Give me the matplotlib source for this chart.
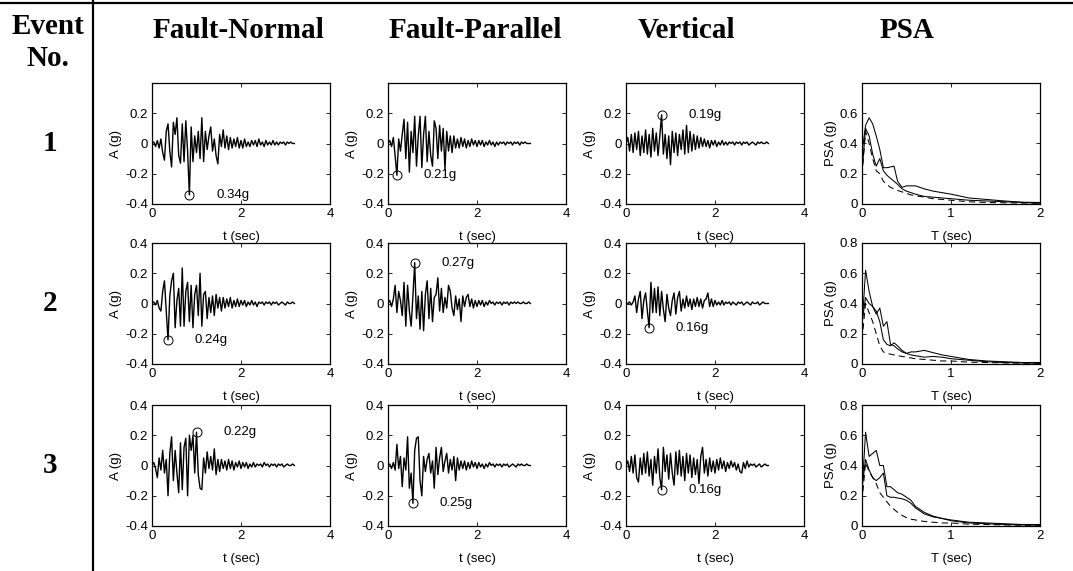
import matplotlib
matplotlib.use('Agg')
import matplotlib.pyplot as plt
import numpy as np

# %% DATA
# Acceleration time histories, sampled every 0.04 s from 0 to 3.2 s (values in g)
fn_1 = [0.00, 0.01, -0.02, 0.02, -0.03, 0.03, -0.06, -0.11, 0.08, 0.13,
        -0.05, -0.155, 0.14, 0.06, 0.17, -0.08, -0.13, 0.13, -0.12, 0.15,
        -0.05, -0.34, 0.11, -0.12, 0.05, -0.06, 0.08, -0.10, 0.17, -0.12,
        0.08, -0.04, 0.05, 0.11, -0.05, 0.03, -0.08, -0.135, 0.06, -0.02,
        0.09, -0.03, 0.05, -0.04, 0.04, -0.03, 0.03, -0.02, 0.04, -0.03,
        0.02, -0.03, 0.03, -0.02, 0.01, -0.02, 0.02, -0.01, 0.02, -0.02,
        0.03, -0.01, 0.01, -0.02, 0.02, -0.01, 0.01, -0.01, 0.02, -0.01,
        0.01, -0.01, 0.01, 0.00, 0.01, -0.01, 0.01, 0.00, 0.01, 0.00, 0.00]
fp_1 = [0.00, 0.02, -0.02, 0.04, -0.08, -0.21, 0.03, -0.05, 0.06, 0.16,
        -0.10, 0.14, -0.19, 0.08, -0.06, 0.18, -0.15, 0.05, 0.18, -0.16,
        0.06, 0.18, -0.12, 0.08, -0.08, -0.15, 0.15, 0.10, -0.10, 0.12,
        -0.05, 0.10, -0.17, 0.08, -0.05, 0.05, -0.06, 0.05, -0.03, 0.03,
        -0.03, 0.04, -0.02, 0.03, -0.03, 0.02, -0.02, 0.03, -0.01, 0.02,
        -0.02, 0.02, -0.01, 0.02, -0.02, 0.01, -0.01, 0.02, -0.01, 0.01,
        -0.02, 0.01, -0.01, 0.01, 0.00, 0.01, -0.01, 0.01, 0.00, 0.01,
        -0.01, 0.01, 0.00, 0.01, -0.01, 0.01, 0.00, 0.01, 0.00, 0.00, 0.00]
v_1 = [0.00, 0.04, -0.05, 0.06, -0.06, 0.07, -0.04, 0.08, -0.08, 0.05,
       -0.06, 0.09, -0.07, 0.06, -0.09, 0.10, -0.05, 0.07, -0.08, 0.05,
       0.19, -0.07, 0.06, -0.10, 0.05, -0.14, 0.08, -0.06, 0.07, -0.08,
       0.06, -0.04, 0.09, -0.07, 0.12, -0.06, 0.08, -0.05, 0.06, -0.04,
       0.05, -0.03, 0.04, -0.02, 0.03, -0.02, 0.02, -0.03, 0.02, -0.01,
       0.02, -0.02, 0.01, -0.01, 0.02, -0.01, 0.01, -0.01, 0.01, 0.00,
       0.01, -0.01, 0.01, 0.00, 0.01, -0.01, 0.01, 0.00, 0.01, -0.01,
       0.00, 0.01, 0.00, -0.01, 0.01, 0.00, 0.01, 0.00, 0.00, 0.01, 0.00]
fn_2 = [0.00, 0.01, -0.01, 0.02, -0.03, -0.05, 0.08, 0.15, -0.05, -0.24,
        0.05, 0.15, 0.20, -0.16, 0.02, 0.10, -0.15, 0.235, -0.15, 0.08,
        0.14, -0.12, 0.12, -0.16, 0.06, 0.12, -0.08, 0.20, -0.15, 0.06,
        0.08, -0.10, 0.04, -0.06, 0.05, -0.08, 0.06, -0.03, 0.04, -0.05,
        0.04, -0.03, 0.03, -0.02, 0.04, -0.03, 0.02, -0.02, 0.03, -0.02,
        0.02, -0.01, 0.02, -0.02, 0.01, -0.01, 0.02, -0.01, 0.01, -0.02,
        0.01, 0.00, 0.01, -0.01, 0.01, 0.00, 0.01, -0.01, 0.01, 0.00,
        0.01, -0.01, 0.00, 0.01, 0.00, -0.01, 0.01, 0.00, 0.00, 0.01, 0.00]
fp_2 = [0.00, 0.02, -0.02, 0.03, 0.12, -0.06, 0.08, 0.02, -0.08, 0.14,
        -0.15, 0.12, -0.05, -0.15, 0.05, 0.27, -0.10, 0.05, -0.17, 0.08,
        -0.18, 0.06, 0.15, -0.10, 0.10, -0.12, 0.04, 0.06, 0.17, -0.05,
        0.10, -0.06, 0.04, -0.03, 0.12, 0.08, -0.03, -0.08, 0.05, -0.04,
        0.03, -0.12, 0.05, -0.02, 0.04, 0.06, -0.02, 0.03, -0.03, 0.02,
        -0.02, 0.02, -0.01, 0.02, -0.02, 0.01, -0.01, 0.02, 0.00, 0.01,
        -0.01, 0.01, 0.00, 0.01, -0.01, 0.01, 0.00, 0.01, -0.01, 0.01,
        0.00, 0.01, 0.00, 0.01, 0.00, 0.00, 0.01, 0.00, 0.00, 0.01, 0.00]
v_2 = [0.00, 0.00, 0.01, -0.01, 0.01, 0.05, -0.06, 0.03, 0.08, -0.10,
       0.02, 0.07, -0.05, -0.16, 0.14, -0.06, 0.10, -0.06, 0.11, -0.08,
       0.08, -0.04, -0.12, 0.06, -0.03, -0.08, 0.02, 0.07, -0.07, 0.04,
       0.08, -0.05, 0.03, -0.03, 0.05, -0.02, 0.03, -0.04, 0.03, -0.02,
       0.04, -0.02, 0.03, -0.03, 0.02, 0.03, 0.07, -0.02, 0.03, -0.02,
       0.02, -0.01, 0.01, -0.01, 0.02, -0.01, 0.01, 0.00, 0.01, -0.01,
       0.01, 0.00, -0.01, 0.01, 0.00, 0.01, -0.01, 0.00, 0.01, 0.00,
       -0.01, 0.01, 0.00, 0.00, 0.01, -0.01, 0.00, 0.01, 0.00, 0.00, 0.00]
fn_3 = [0.00, 0.02, -0.02, -0.08, 0.05, -0.03, 0.10, -0.05, 0.04, -0.20,
        0.08, 0.19, -0.10, 0.10, -0.05, -0.18, 0.15, -0.16, 0.12, 0.18,
        -0.20, 0.20, 0.10, 0.20, -0.05, 0.22, -0.06, -0.15, -0.16, 0.05,
        -0.05, 0.09, -0.02, 0.06, -0.03, 0.11, -0.06, 0.04, -0.04, 0.04,
        -0.02, 0.03, -0.03, 0.04, -0.02, 0.03, -0.03, 0.02, -0.01, 0.03,
        -0.02, 0.02, -0.01, 0.02, -0.02, 0.01, -0.01, 0.02, -0.01, 0.01,
        0.00, 0.01, -0.01, 0.02, 0.00, 0.01, -0.01, 0.01, 0.00, 0.01,
        -0.01, 0.01, 0.00, 0.01, -0.01, 0.00, 0.01, 0.00, 0.00, 0.01, 0.00]
fp_3 = [0.00, 0.01, -0.02, 0.02, -0.03, 0.14, -0.02, 0.06, -0.14, 0.05,
        -0.03, 0.19, -0.15, -0.05, -0.25, 0.10, 0.18, 0.19, -0.10, -0.20,
        0.06, -0.04, 0.04, 0.08, -0.05, 0.03, -0.15, 0.12, -0.06, 0.05,
        0.12, -0.04, 0.03, 0.08, -0.05, 0.04, -0.03, 0.06, -0.10, 0.05,
        -0.03, 0.03, -0.02, 0.03, -0.03, 0.02, -0.02, 0.03, -0.01, 0.02,
        -0.02, 0.02, -0.01, 0.01, -0.02, 0.01, -0.01, 0.02, 0.00, 0.01,
        -0.01, 0.01, 0.00, 0.01, -0.01, 0.01, 0.00, 0.01, -0.01, 0.00,
        0.01, 0.00, -0.01, 0.01, 0.00, 0.01, 0.00, 0.00, 0.01, 0.00, 0.00]
v_3 = [0.00, 0.03, -0.04, 0.06, -0.05, 0.07, -0.08, -0.11, 0.05, -0.06,
       0.08, -0.05, 0.09, -0.07, 0.04, -0.13, 0.06, -0.05, 0.11, -0.08,
       -0.16, 0.12, -0.04, 0.07, -0.09, 0.08, -0.05, -0.13, 0.09, -0.06,
       0.10, -0.07, 0.06, -0.10, 0.08, -0.05, 0.07, -0.08, 0.05, -0.06,
       0.04, -0.12, 0.06, 0.12, -0.05, 0.04, -0.07, 0.05, -0.04, 0.03,
       -0.05, 0.04, -0.03, 0.05, -0.02, 0.03, -0.04, 0.02, -0.02, 0.03,
       -0.01, 0.02, -0.03, 0.01, -0.04, -0.05, 0.02, -0.02, 0.03, -0.01,
       0.01, 0.00, 0.01, -0.01, 0.00, 0.01, -0.01, 0.00, 0.01, 0.00, 0.00]

# Pseudo spectral acceleration (g) against period (sec)
psa_period = [0.0, 0.04, 0.08, 0.12, 0.16, 0.2, 0.24, 0.28, 0.32, 0.36, 0.4, 0.45,
              0.5, 0.55, 0.6, 0.7, 0.8, 0.9, 1.0, 1.2, 1.4, 1.6, 1.8, 2.0]
psa_fn_1 = [0.34, 0.52, 0.57, 0.53, 0.45, 0.36, 0.24, 0.24, 0.245, 0.25, 0.15, 0.11,
            0.12, 0.12, 0.12, 0.10, 0.085, 0.075, 0.065, 0.04, 0.03, 0.02, 0.012, 0.01]
psa_fp_1 = [0.21, 0.50, 0.45, 0.33, 0.25, 0.30, 0.22, 0.19, 0.17, 0.15, 0.13, 0.10,
            0.085, 0.075, 0.065, 0.05, 0.045, 0.04, 0.035, 0.025, 0.02, 0.015, 0.01, 0.005]
psa_v_1 = [0.19, 0.48, 0.40, 0.30, 0.22, 0.20, 0.15, 0.13, 0.11, 0.10, 0.09, 0.08,
           0.07, 0.06, 0.055, 0.045, 0.035, 0.03, 0.025, 0.015, 0.01, 0.008, 0.006, 0.005]
psa_fn_2 = [0.24, 0.62, 0.48, 0.38, 0.33, 0.37, 0.25, 0.28, 0.13, 0.12, 0.10, 0.08,
            0.07, 0.08, 0.08, 0.09, 0.075, 0.06, 0.05, 0.03, 0.02, 0.015, 0.01, 0.01]
psa_fp_2 = [0.27, 0.44, 0.40, 0.38, 0.35, 0.28, 0.16, 0.13, 0.12, 0.14, 0.12, 0.09,
            0.07, 0.06, 0.055, 0.045, 0.05, 0.045, 0.035, 0.025, 0.015, 0.01, 0.007, 0.005]
psa_v_2 = [0.16, 0.40, 0.34, 0.28, 0.20, 0.12, 0.08, 0.07, 0.065, 0.06, 0.055, 0.05,
           0.045, 0.04, 0.035, 0.03, 0.025, 0.02, 0.02, 0.012, 0.01, 0.007, 0.005, 0.005]
psa_fn_3 = [0.22, 0.62, 0.46, 0.48, 0.50, 0.40, 0.40, 0.26, 0.26, 0.24, 0.22, 0.21,
            0.19, 0.17, 0.13, 0.09, 0.065, 0.05, 0.04, 0.025, 0.02, 0.015, 0.01, 0.01]
psa_fp_3 = [0.25, 0.44, 0.37, 0.32, 0.30, 0.32, 0.35, 0.20, 0.19, 0.19, 0.185, 0.18,
            0.17, 0.15, 0.12, 0.08, 0.06, 0.05, 0.035, 0.02, 0.015, 0.01, 0.007, 0.005]
psa_v_3 = [0.16, 0.42, 0.36, 0.32, 0.28, 0.22, 0.19, 0.16, 0.13, 0.11, 0.09, 0.07,
           0.055, 0.045, 0.04, 0.03, 0.025, 0.02, 0.02, 0.012, 0.01, 0.007, 0.005, 0.005]

column_titles = ['Fault-Normal', 'Fault-Parallel', 'Vertical', 'PSA']
event_labels = ['1', '2', '3']
dt = 0.04

records = [[fn_1, fp_1, v_1], [fn_2, fp_2, v_2], [fn_3, fp_3, v_3]]
spectra = [[psa_fn_1, psa_fp_1, psa_v_1],
           [psa_fn_2, psa_fp_2, psa_v_2],
           [psa_fn_3, psa_fp_3, psa_v_3]]

# %% LAYOUT (pixel positions of the original page)
fig_w, fig_h = 1073, 571
col_left = [152, 388, 626, 862]
row_top = [83, 243, 405]
ax_w, ax_h = 178, 121
title_x = [238, 475, 686, 907]

sans = ['Liberation Sans', 'DejaVu Sans']
serif = ['Liberation Serif', 'DejaVu Serif']
tick_size = 9.5
head_size = 21

fig = plt.figure(figsize=(fig_w / 100, fig_h / 100), dpi=100)


def style_axes(ax):
    ax.tick_params(direction='in', length=3, width=0.6, top=True, right=True,
                   labelsize=tick_size, pad=3)
    for spine in ax.spines.values():
        spine.set_linewidth(0.9)
    for lab in ax.get_xticklabels() + ax.get_yticklabels():
        lab.set_family(sans)


for i_row in range(3):
    y0 = 1 - (row_top[i_row] + ax_h) / fig_h
    for i_col in range(4):
        ax = fig.add_axes([col_left[i_col] / fig_w, y0, ax_w / fig_w, ax_h / fig_h])
        if i_col < 3:
            acc = np.array(records[i_row][i_col])
            t = np.arange(len(acc)) * dt
            ax.plot(t, acc, color='black', lw=1.0)
            i_peak = np.argmax(np.abs(acc))
            ax.plot(t[i_peak], acc[i_peak], 'o', ms=6.5, mfc='none', mec='black', mew=0.7)
            ax.text(t[i_peak] + 0.6, acc[i_peak], f'{abs(acc[i_peak]):.2f}g',
                    fontsize=tick_size, family=sans, va='center', ha='left')
            ax.set_xlim(0, 4)
            ax.set_ylim(-0.4, 0.4)
            ax.set_xticks([0, 2, 4])
            ax.set_xticklabels(['0', '2', '4'])
            ax.set_yticks([-0.4, -0.2, 0, 0.2, 0.4])
            top_lab = '' if i_row == 0 else '0.4'
            ax.set_yticklabels(['-0.4', '-0.2', '0', '0.2', top_lab])
            ax.set_xlabel('t (sec)', fontsize=tick_size, family=sans, labelpad=8)
            ax.set_ylabel('A (g)', fontsize=tick_size, family=sans, labelpad=2)
        else:
            styles = ['-', '-', '--']
            for curve, ls in zip(spectra[i_row], styles):
                ax.plot(psa_period, curve, color='black', lw=0.75, ls=ls,
                        dashes=(6, 4) if ls == '--' else (None, None))
            ax.set_xlim(0, 2)
            ax.set_ylim(0, 0.8)
            ax.set_xticks([0, 1, 2])
            ax.set_xticklabels(['0', '1', '2'])
            ax.set_yticks([0, 0.2, 0.4, 0.6, 0.8])
            top_lab = '' if i_row == 0 else '0.8'
            ax.set_yticklabels(['0', '0.2', '0.4', '0.6', top_lab])
            ax.set_xlabel('T (sec)', fontsize=tick_size, family=sans, labelpad=8)
            ax.set_ylabel('PSA (g)', fontsize=tick_size, family=sans, labelpad=2)
        style_axes(ax)

    # event number in the left column
    y_mid = 1 - (row_top[i_row] + ax_h / 2) / fig_h
    fig.text(50 / fig_w, y_mid, event_labels[i_row], fontsize=head_size, family=serif,
             weight='bold', ha='center', va='center')

# header row
for x, title in zip(title_x, column_titles):
    fig.text(x / fig_w, 1 - 30 / fig_h, title, fontsize=head_size, family=serif,
             weight='bold', ha='center', va='center')
fig.text(48 / fig_w, 1 - 27 / fig_h, 'Event', fontsize=head_size, family=serif,
         weight='bold', ha='center', va='center')
fig.text(48 / fig_w, 1 - 59 / fig_h, 'No.', fontsize=head_size, family=serif,
         weight='bold', ha='center', va='center')

# table rules
fig.add_artist(plt.Line2D([0, 1], [1 - 3 / fig_h, 1 - 3 / fig_h], color='black', lw=1.6))
fig.add_artist(plt.Line2D([93 / fig_w, 93 / fig_w], [0, 1], color='black', lw=1.6))

fig.savefig('out.png', dpi=100)
